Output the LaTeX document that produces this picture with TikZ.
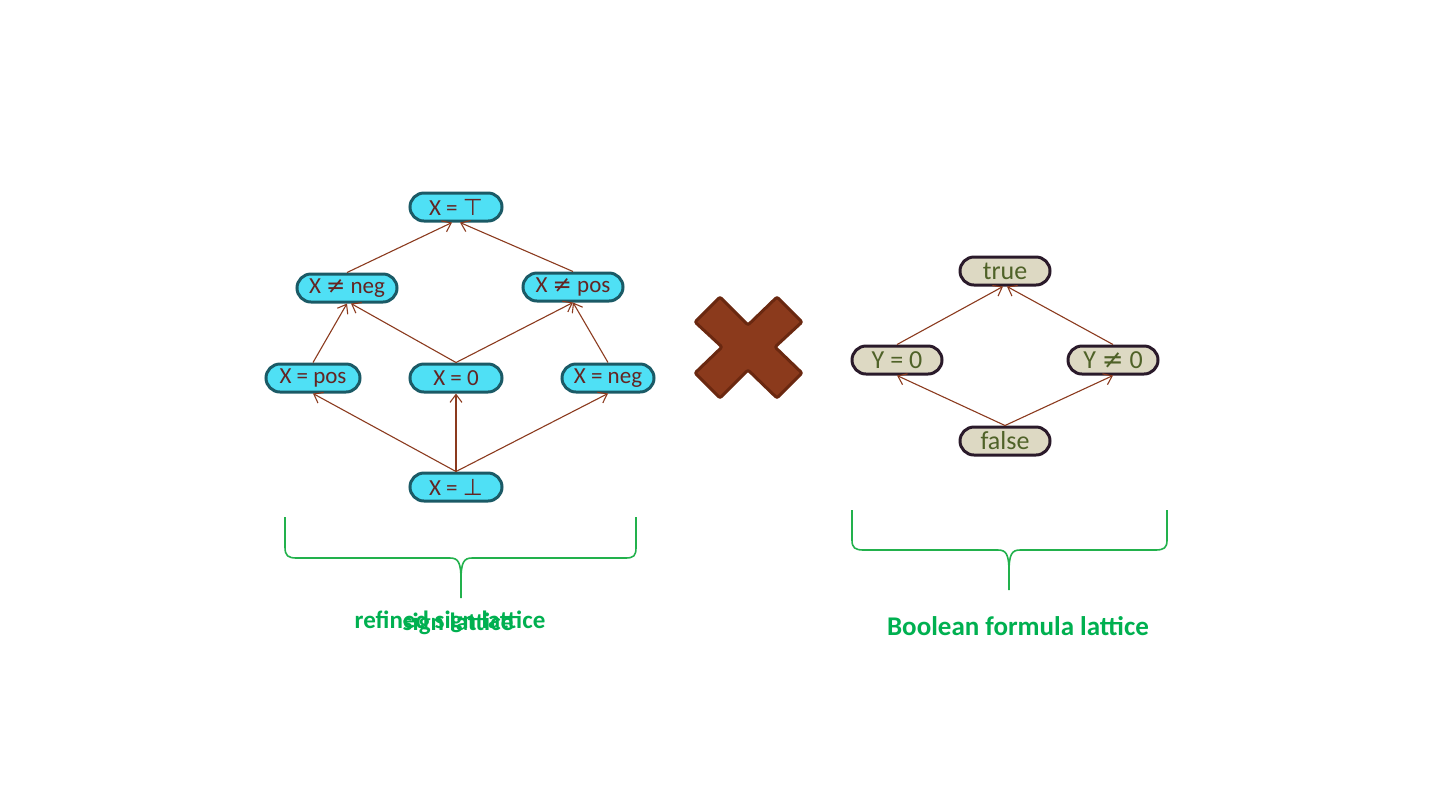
\documentclass[tikz,border=0pt]{standalone}
\usepackage{fontspec}
\setmainfont{Carlito}
\newfontfamily\symfont{DejaVu Sans}
\usetikzlibrary{shapes.misc,arrows.meta}
\definecolor{cyanfill}{HTML}{4FE0F5}
\definecolor{cyanline}{HTML}{1B5A66}
\definecolor{cyantext}{HTML}{632523}
\definecolor{tanfill}{HTML}{DDD9C3}
\definecolor{tanline}{HTML}{2A1A2A}
\definecolor{tantext}{HTML}{4F6228}
\definecolor{edgecol}{HTML}{8B3A1E}
\definecolor{crossfill}{HTML}{8B3A1C}
\definecolor{crossline}{HTML}{6A2810}
\definecolor{bracecol}{HTML}{22B14C}
\definecolor{labelcol}{HTML}{00B050}
\begin{document}
\begin{tikzpicture}[x=0.5pt,y=-0.5pt,
  lnode/.style={rounded rectangle, draw=cyanline, fill=cyanfill, line width=1.5pt,
    text=cyantext, font=\fontsize{11.5}{13}\selectfont, minimum height=14pt, inner sep=0pt},
  rnode/.style={rounded rectangle, draw=tanline, fill=tanfill, line width=1.5pt,
    text=tantext, font=\fontsize{13}{15}\selectfont, minimum height=14pt, minimum width=45pt, inner sep=0pt},
  edge/.style={draw=edgecol, line width=0.55pt, -{Straight Barb[length=4pt,width=6pt]}},
  brace/.style={draw=bracecol, line width=0.8pt},
  lab/.style={text=labelcol, font=\bfseries\fontsize{12.5}{14}\selectfont},
]
\useasboundingbox (0,0) rectangle (1440,811);
% left lattice
\node[lnode, minimum width=46pt] (top) at (456,207) {X = {\symfont ⊤}};
\node[lnode, minimum width=50pt] (xnneg) at (347,288) {X {\symfont ≠} neg};
\node[lnode, minimum width=50pt] (xnpos) at (573,287) {X {\symfont ≠} pos};
\node[lnode, minimum width=47pt] (xpos) at (313,378) {X = pos};
\node[lnode, minimum width=46pt] (x0) at (456,378) {X = 0};
\node[lnode, minimum width=46pt] (xneg) at (608,378) {X = neg};
\node[lnode, minimum width=46pt] (bot) at (456,487) {X = {\symfont ⊥}};
\draw[edge] (xnneg.north) -- ([xshift=-2pt]top.south);
\draw[edge] (xnpos.north) -- ([xshift=2pt]top.south);
\draw[edge] (xpos.north) -- (xnneg.south);
\draw[edge] (x0.north) -- ([xshift=2pt]xnneg.south);
\draw[edge] (x0.north) -- (xnpos.south);
\draw[edge] (xneg.north) -- (xnpos.south);
\draw[edge] (bot.north) -- (xpos.south);
\draw[edge] (bot.north) -- (x0.south);
\draw[edge] (bot.north) -- (xneg.south);
% cross
\draw[fill=crossfill, draw=crossline, line width=1.5pt, rounded corners=1pt]
  (720,297) -- (748,325) -- (777,297) -- (802,322) -- (775,347) -- (802,373) -- (777,398)
  -- (748,370) -- (720,398) -- (695,373) -- (722,347) -- (695,322) -- cycle;
% right lattice
\node[rnode] (tru) at (1005,271) {true};
\node[rnode] (y0) at (897,360) {Y = 0};
\node[rnode] (yn0) at (1113,360) {Y {\symfont ≠} 0};
\node[rnode] (fal) at (1005,441) {false};
\draw[edge] (y0.north) -- ([xshift=-1pt]tru.south);
\draw[edge] (yn0.north) -- ([xshift=1pt]tru.south);
\draw[edge] (fal.north) -- (y0.south);
\draw[edge] (fal.north) -- (yn0.south);
% braces
\draw[brace] (285,517) -- (285,547) .. controls (285,556) and (288,558) .. (297,558) -- (450,558)
  .. controls (458,558) and (461,562) .. (461,580) -- (461,598);
\draw[brace] (461,580) .. controls (461,562) and (464,558) .. (472,558) -- (625,558)
  .. controls (634,558) and (636,556) .. (636,547) -- (636,517);
\draw[brace] (852,510) -- (852,540) .. controls (852,548) and (855,550) .. (864,550) -- (998,550)
  .. controls (1006,550) and (1009,554) .. (1009,572) -- (1009,590);
\draw[brace] (1009,572) .. controls (1009,554) and (1012,550) .. (1020,550) -- (1155,550)
  .. controls (1164,550) and (1167,548) .. (1167,540) -- (1167,510);
% labels
\node[lab] (l1) at (450,622) {refined sign lattice};
\node[lab] (l2) at (458,624) {sign lattice};
\node[lab, font=\bfseries\fontsize{13.5}{16}\selectfont] (l3) at (1018,626) {Boolean formula lattice};
\end{tikzpicture}
\end{document}
